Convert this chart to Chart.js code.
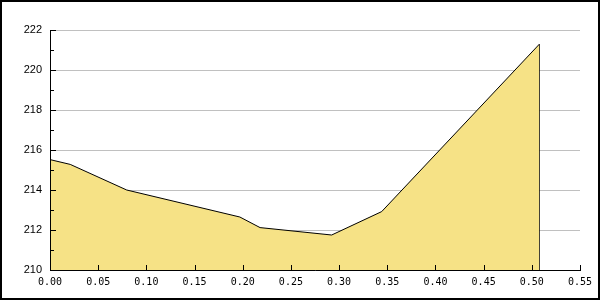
<!DOCTYPE html>
<html>
<head>
<meta charset="utf-8">
<script src="https://cdn.jsdelivr.net/npm/chart.js@4/dist/chart.umd.min.js"></script>
<style>
html,body{margin:0;padding:0;background:#fff;}
#c{display:block;}
</style>
</head>
<body>
<canvas id="c" width="600" height="300"></canvas>
<script>
// Data
const xValues = [0.000, 0.021, 0.0796, 0.197, 0.218, 0.2923, 0.3442, 0.5078];
const yValues = [215.52, 215.28, 214.00, 212.65, 212.12, 211.75, 212.92, 221.29];
const yMin = 210, yMax = 222, yStep = 2;
const xMin = 0, xMax = 0.55, xStep = 0.05;

const points = xValues.map((x, i) => ({x: x, y: yValues[i]}));
const lastX = xValues[xValues.length - 1];
const lastY = yValues[yValues.length - 1];
const edge = [{x: lastX, y: yMin}, {x: lastX, y: lastY}];

const framePlugin = {
  id: 'framePlugin',
  afterDraw(chart) {
    const {ctx, chartArea: a, scales: {x, y}} = chart;
    ctx.save();
    ctx.strokeStyle = '#000';
    ctx.lineWidth = 1;
    ctx.beginPath();
    ctx.moveTo(a.left + 0.5, a.top);
    ctx.lineTo(a.left + 0.5, a.bottom + 0.5);
    ctx.lineTo(a.right + 1, a.bottom + 0.5);
    for (let v = yMin; v <= yMax; v += 1) {
      const py = Math.round(y.getPixelForValue(v)) + 0.5;
      const len = ((v - yMin) % yStep === 0) ? 5 : 3;
      ctx.moveTo(a.left, py);
      ctx.lineTo(a.left + len + 1, py);
    }
    x.ticks.forEach(t => {
      const px = Math.round(x.getPixelForValue(t.value)) + 0.5;
      ctx.moveTo(px, a.bottom + 1);
      ctx.lineTo(px, a.bottom - 5);
    });
    ctx.stroke();
    ctx.lineWidth = 2;
    ctx.strokeRect(1, 1, 598, 298);
    ctx.restore();
  }
};

new Chart(document.getElementById('c'), {
  type: 'line',
  data: {
    datasets: [
      {
        data: points,
        borderColor: '#000',
        borderWidth: 1,
        backgroundColor: 'rgb(246,226,134)',
        fill: 'origin',
        pointRadius: 0,
        tension: 0
      },
      {
        data: edge,
        borderColor: '#000',
        borderWidth: 1,
        fill: false,
        pointRadius: 0
      }
    ]
  },
  options: {
    responsive: false,
    animation: false,
    events: [],
    layout: {padding: {left: 0, right: 20, top: 30, bottom: 0}},
    plugins: {legend: {display: false}, tooltip: {enabled: false}},
    scales: {
      x: {
        type: 'linear',
        min: xMin, max: xMax,
        grid: {display: false, drawTicks: false},
        border: {display: false},
        ticks: {
          stepSize: xStep,
          padding: 6,
          color: '#000',
          maxRotation: 0,
          autoSkip: false,
          font: {family: '"DejaVu Sans Mono"', size: 10},
          callback: v => Number(v).toFixed(2)
        },
        afterFit: s => { s.height = 30; }
      },
      y: {
        type: 'linear',
        min: yMin, max: yMax,
        grid: {color: '#c0c0c0', lineWidth: 1, drawTicks: false},
        border: {display: false},
        ticks: {
          stepSize: yStep,
          padding: 8,
          color: '#000',
          font: {family: '"Liberation Sans"', size: 11},
          callback: v => String(v)
        },
        afterFit: s => { s.width = 50; }
      }
    }
  },
  plugins: [framePlugin]
});
</script>
</body>
</html>
